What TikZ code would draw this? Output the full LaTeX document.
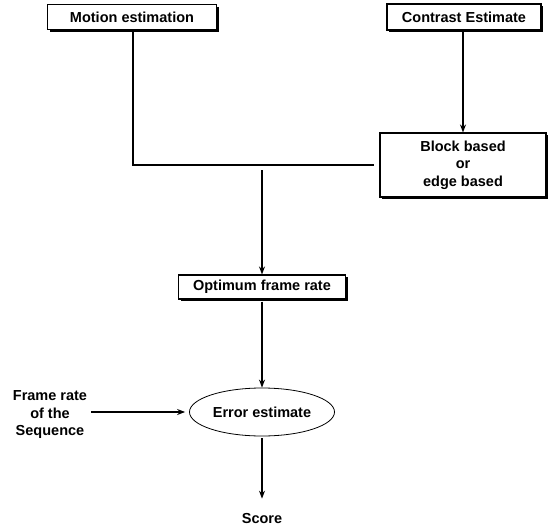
\documentclass[tikz,border=0pt]{standalone}
\usepackage{fontspec}
\setmainfont{Liberation Sans}
\usetikzlibrary{shapes.geometric, arrows.meta, positioning, calc, shadows}
\tikzset{
  lbl/.style={font=\bfseries\fontsize{14.5}{17.5}\selectfont, align=center, inner sep=0pt},
  box/.style={lbl, rectangle, draw=black, fill=white, line width=1.1pt,
    drop shadow={shadow xshift=2pt, shadow yshift=-2pt, fill=black, opacity=1}},
  oval/.style={lbl, ellipse, draw=black, fill=white, line width=0.8pt,
    minimum width=145pt, minimum height=48pt},
  arrow/.style={-{Stealth[length=8pt, width=6pt]}, line width=1.2pt},
  line/.style={line width=1.2pt}
}
\begin{document}
\begin{tikzpicture}[x=1pt, y=-1pt]
  \useasboundingbox (0,0) rectangle (550,528);

  % ── Top row: the two estimates ──────────────────────────────────────────
  \node[box, minimum width=169pt, minimum height=25pt] (motion)   at (132,17)  {Motion estimation};
  \node[box, minimum width=154pt, minimum height=26pt] (contrast) at (464,17)  {Contrast Estimate};

  % ── Block / edge choice ─────────────────────────────────────────────────
  \node[box, minimum width=166pt, minimum height=64pt] (block) at (463,165) {Block based\\or\\edge based};

  % ── Middle column ───────────────────────────────────────────────────────
  \node[box, minimum width=167pt, minimum height=24pt] (optim) at (262,287) {Optimum frame rate};
  \node[oval] (error) at (262,412) {Error estimate};
  \node[lbl] (score) at (262,519) {Score};
  \node[lbl] (frate) at (50,415) {Frame rate\\of the\\Sequence};

  % ── Connectors ──────────────────────────────────────────────────────────
  \coordinate (tap) at (262,165);
  \draw[line]  (motion.south -| 133,0) |- ([xshift=-5pt]block.west);
  \draw[arrow] (contrast.south -| 463,0) -- (block.north -| 463,0);
  \draw[arrow, shorten <=5pt] (tap) -- (optim.north);
  \draw[arrow, shorten <=2pt] (optim.south) -- (error.north);
  \draw[arrow, shorten >=4pt] ([xshift=4pt]frate.east |- error.west) -- (error.west);
  \draw[arrow, shorten <=2pt, shorten >=15pt] (error.south) -- (score.north);
\end{tikzpicture}
\end{document}
